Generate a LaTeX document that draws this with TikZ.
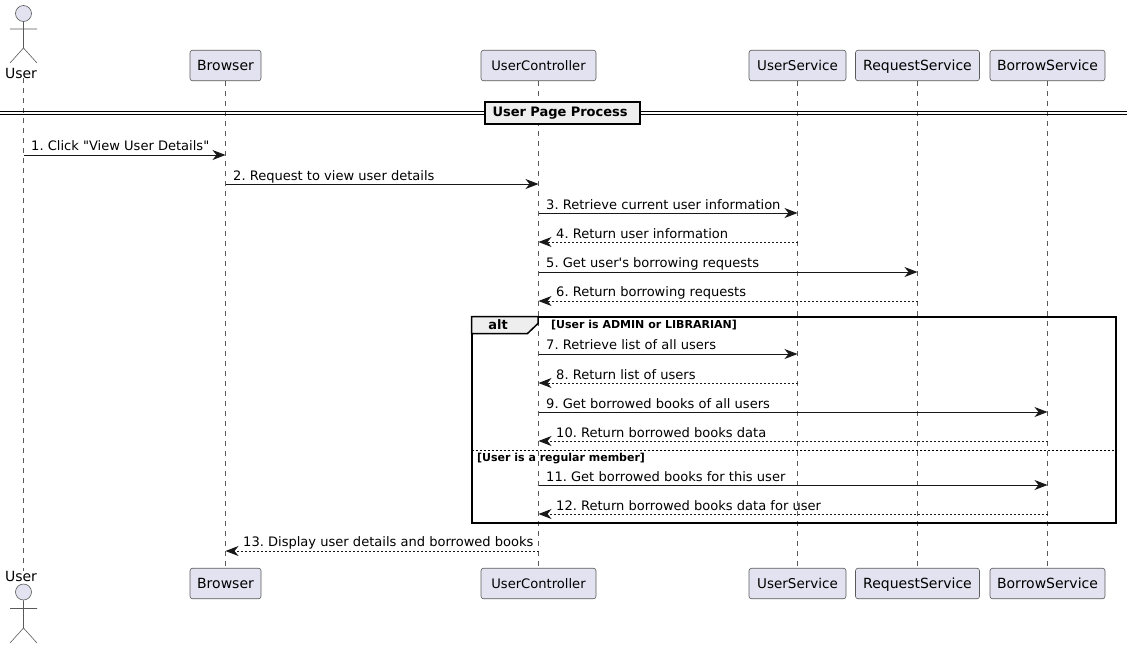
\documentclass[tikz,border=0pt]{standalone}
\usepackage{fontspec}
\setmainfont{DejaVu Sans}[Ligatures=TeXOff]
\usetikzlibrary{arrows.meta}
\definecolor{partfill}{HTML}{E2E2F0}
\definecolor{partline}{HTML}{5A5A5A}
\definecolor{inkc}{HTML}{181818}
\definecolor{tabfill}{HTML}{EEEEEE}
\tikzset{
  x=1pt,y=-1pt,
  partbox/.style={draw=partline,fill=partfill,rounded corners=2.5pt,line width=.6pt,minimum height=30.5pt,inner sep=0pt,text height=11pt,text depth=2pt,font=\fontsize{13.5}{15}\selectfont,text=black},
  partwide/.style={partbox,font=\fontsize{14}{15}\selectfont},
  partnarrow/.style={partbox,font=\fontsize{13.1}{15}\selectfont},
  actorpart/.style={draw=partline,line width=.6pt},
  actorhead/.style={draw=partline,fill=partfill,line width=.6pt},
  actorlabel/.style={inner sep=0pt,font=\fontsize{14}{15}\selectfont,text=black},
  lifeline/.style={draw=partline,line width=.6pt,dash pattern=on 5pt off 5pt},
  msgline/.style={draw=inkc,line width=.9pt,-{Stealth[length=13pt,width=10pt,inset=4pt]}},
  replyline/.style={msgline,dash pattern=on 2pt off 2pt},
  msglabel/.style={inner sep=0pt,anchor=base west,font=\frenchspacing\fontsize{13.05}{15}\selectfont,text=black},
  framemain/.style={draw=black,line width=2pt},
  boldlabel/.style={inner sep=0pt,font=\bfseries\frenchspacing\fontsize{13}{15}\selectfont,text=black},
  guardlabel/.style={inner sep=0pt,anchor=base west,font=\bfseries\frenchspacing\fontsize{11}{13}\selectfont,text=black},
}
\newcommand{\msgto}[6]{% name, from, to, y, style, label x + text
  \coordinate (#1s) at (#2 |- 0,#4);
  \coordinate (#1e) at (#3 |- 0,#4);
  \draw[#5] (#1s) -- (#1e);
  \node[msglabel] (#1t) at (#6;
}
\begin{document}
\begin{tikzpicture}
\useasboundingbox (0,0) rectangle (1131,648);
% participant boxes
\node[partwide,minimum width=71pt]  (bt) at (225.5,65.5) {Browser};
\node[partnarrow,minimum width=115pt] (ct) at (538.5,65.5) {UserController};
\node[partbox,minimum width=97pt]  (st) at (797.5,65.5) {UserService};
\node[partwide,minimum width=124pt] (rt) at (917.5,65.5) {RequestService};
\node[partwide,minimum width=115pt] (ot) at (1047.5,65.5) {BorrowService};
\node[partwide,minimum width=71pt]  (bb) at (225.5,583.5) {Browser};
\node[partnarrow,minimum width=115pt] (cb) at (538.5,583.5) {UserController};
\node[partbox,minimum width=97pt]  (sb) at (797.5,583.5) {UserService};
\node[partwide,minimum width=124pt] (rb) at (917.5,583.5) {RequestService};
\node[partwide,minimum width=115pt] (ob) at (1047.5,583.5) {BorrowService};
% actors
\node[actorlabel] (ut) at (21,73) {User};
\node[actorlabel] (ub) at (21,576) {User};
\node[actorhead,circle,minimum size=16pt,inner sep=0pt] (hu) at (23.5,13.5) {};
\draw[actorpart] (hu.south) -- (23.5,48) (10,29) -- (37,29) (10,63) -- (23.5,48) -- (37,63);
\node[actorhead,circle,minimum size=16pt,inner sep=0pt] (hd) at (23.5,592) {};
\draw[actorpart] (hd.south) -- (23.5,628) (10,608.5) -- (37,608.5) (10,643) -- (23.5,628) -- (37,643);
% lifelines
\draw[lifeline] (hu |- ut.south) -- (hu |- ub.north);
\draw[lifeline] (bt.south) -- (bb.north);
\draw[lifeline] (ct.south) -- (cb.north);
\draw[lifeline] (st.south) -- (sb.north);
\draw[lifeline] (rt.south) -- (rb.north);
\draw[lifeline] (ot.south) -- (ob.north);
% divider
\draw[draw=black,line width=1pt] (0,111.5) -- (1127,111.5) (0,114.5) -- (1127,114.5);
\node[framemain,fill=tabfill,boldlabel,draw,minimum width=155pt,minimum height=22pt,text width=140pt,align=left] (div) at (562.5,113) {User Page Process};
% messages
\msgto{m1}{hu}{bt}{155}{msgline}{31,150) {1. Click "View User Details"}};
\msgto{m2}{bt}{ct}{184}{msgline}{233,180) {2. Request to view user details}};
\msgto{m3}{ct}{st}{213}{msgline}{546,209) {3. Retrieve current user information}};
\msgto{m4}{st}{ct}{242}{replyline}{556,238) {4. Return user information}};
\msgto{m5}{ct}{rt}{272}{msgline}{546,267) {5. Get user's borrowing requests}};
\msgto{m6}{rt}{ct}{301}{replyline}{556,296) {6. Return borrowing requests}};
% alt frame
\draw[framemain] (471.5,316.5) rectangle (1115.5,522.5);
\node[guardlabel] (g1) at (551,328) {[User is ADMIN or LIBRARIAN]};
\draw[framemain,line width=1.5pt,fill=tabfill] (471.5,316.5) -- (538,316.5) -- (538,323.5) -- (527.5,333.5) -- (471.5,333.5) -- cycle;
\node[boldlabel] (alt) at (498,324.5) {alt};
\msgto{m7}{ct}{st}{354}{msgline}{546,349) {7. Retrieve list of all users}};
\msgto{m8}{st}{ct}{383}{replyline}{556,379) {8. Return list of users}};
\msgto{m9}{ct}{ot}{412}{msgline}{546,408) {9. Get borrowed books of all users}};
\msgto{m10}{ot}{ct}{441}{replyline}{556,437) {10. Return borrowed books data}};
\coordinate (el) at (471.5,450);
\coordinate (er) at (1115.5,450);
\draw[draw=black,line width=.7pt,dash pattern=on 2pt off 2pt] (el) -- (er);
\node[guardlabel] (g2) at (477,461) {[User is a regular member]};
\msgto{m11}{ct}{ot}{485}{msgline}{546,481) {11. Get borrowed books for this user}};
\msgto{m12}{ot}{ct}{514}{replyline}{556,510) {12. Return borrowed books data for user}};
\msgto{m13}{ct}{bt}{551}{replyline}{243,546) {13. Display user details and borrowed books}};
\end{tikzpicture}
\end{document}
